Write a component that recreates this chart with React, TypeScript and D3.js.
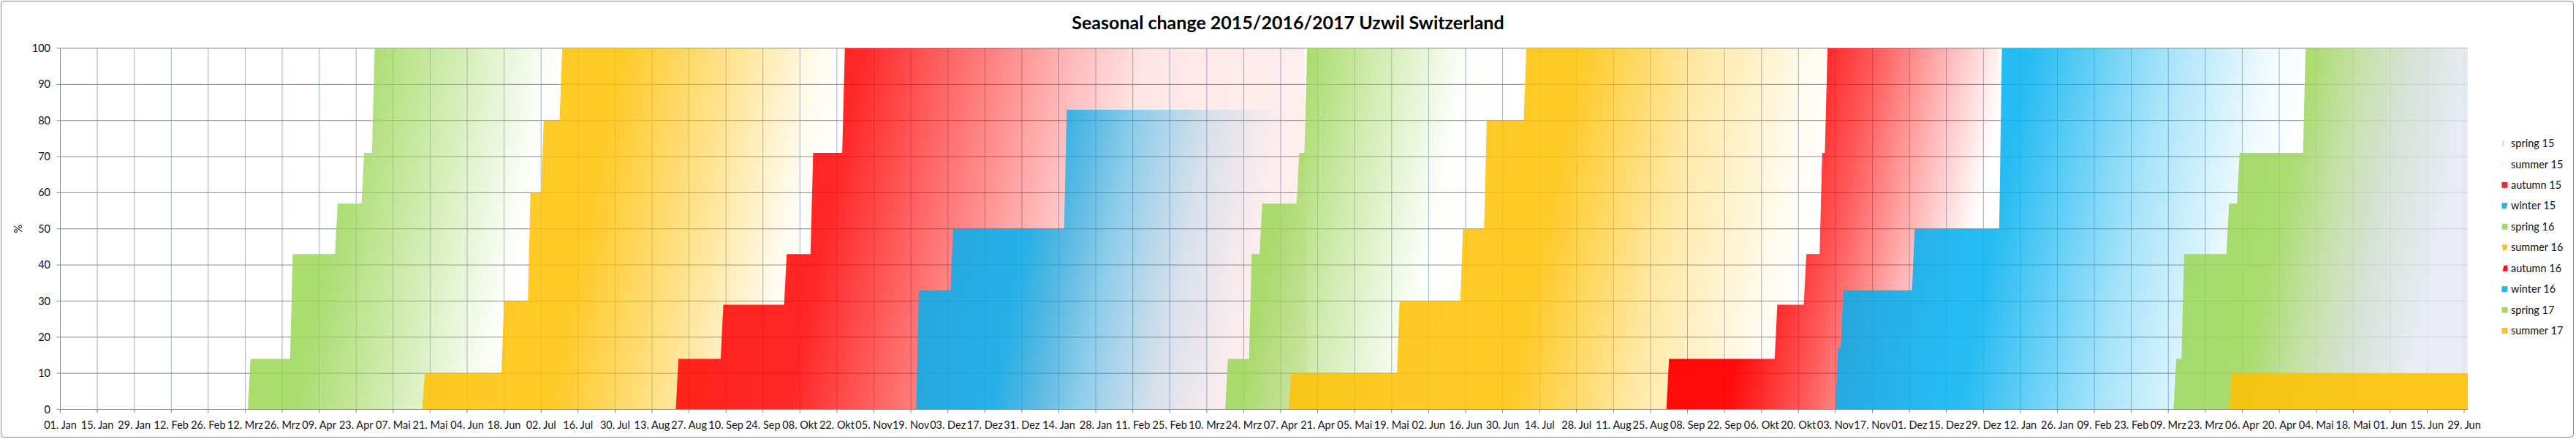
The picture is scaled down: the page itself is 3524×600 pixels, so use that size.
import * as d3 from "d3";
import React from "react";

// season names, in drawing order (later ones are drawn on top)
const seasons = [
  "spring 15", "summer 15", "autumn 15", "winter 15", "spring 16",
  "summer 16", "autumn 16", "winter 16", "spring 17", "summer 17",
];

// change points: [day, % from that day on]; a final 0 closes the season
const spring15: [string, number][] = [
  ["2015-03-14", 14], ["2015-03-30", 43], ["2015-04-16", 57], ["2015-04-26", 71], ["2015-04-30", 100], ["2015-07-10", 0],
];
const summer15: [string, number][] = [
  ["2015-05-19", 10], ["2015-06-18", 30], ["2015-06-28", 60], ["2015-07-03", 80], ["2015-07-10", 100], ["2015-10-25", 0],
];
const autumn15: [string, number][] = [
  ["2015-08-23", 14], ["2015-09-09", 29], ["2015-10-03", 43], ["2015-10-13", 71], ["2015-10-25", 100], ["2016-04-17", 0],
];
const winter15: [string, number][] = [
  ["2015-11-22", 33], ["2015-12-05", 50], ["2016-01-17", 83], ["2016-04-10", 0],
];
const spring16: [string, number][] = [
  ["2016-03-18", 14], ["2016-03-27", 43], ["2016-03-31", 57], ["2016-04-14", 71], ["2016-04-17", 100], ["2016-07-09", 0],
];
const summer16: [string, number][] = [
  ["2016-04-11", 10], ["2016-05-22", 30], ["2016-06-15", 50], ["2016-06-24", 80], ["2016-07-09", 100], ["2016-10-31", 0],
];
const autumn16: [string, number][] = [
  ["2016-09-01", 14], ["2016-10-12", 29], ["2016-10-23", 43], ["2016-10-29", 71], ["2016-10-31", 100], ["2017-01-05", 0],
];
const winter16: [string, number][] = [
  ["2016-11-04", 17], ["2016-11-06", 33], ["2016-12-03", 50], ["2017-01-05", 100], ["2017-04-30", 0],
];
const spring17: [string, number][] = [
  ["2017-03-12", 14], ["2017-03-15", 43], ["2017-04-01", 57], ["2017-04-05", 71], ["2017-04-30", 100],
];
const summer17: [string, number][] = [["2017-04-02", 10]];

const seriesValues = [spring15, summer15, autumn15, winter15, spring16, summer16, autumn16, winter16, spring17, summer17];

const monthNames = ["Jan", "Feb", "Mrz", "Apr", "Mai", "Jun", "Jul", "Aug", "Sep", "Okt", "Nov", "Dez"];
const yTicks = [0, 10, 20, 30, 40, 50, 60, 70, 80, 90, 100];
const axisStart = "2015-01-01";
const axisEnd = "2017-07-01";

const GREEN = "#9BD655";
const ORANGE = "#FFC000";
const RED = "#FF0000";
const BLUE = "#00B0F0";

// gradient stops per season: [offset, color, opacity]
const fills: [number, string, number][][] = [
  [[0, GREEN, 0.85], [0.36, GREEN, 0.85], [0.68, GREEN, 0.4], [0.93, GREEN, 0.03], [1, GREEN, 0]],
  [[0, ORANGE, 0.85], [0.45, ORANGE, 0.85], [0.7, ORANGE, 0.45], [0.92, ORANGE, 0.05], [1, ORANGE, 0]],
  [[0, RED, 0.85], [0.28, RED, 0.85], [0.45, RED, 0.55], [0.62, RED, 0.25], [0.72, RED, 0.1], [1, RED, 0.06]],
  [[0, BLUE, 0.85], [0.38, BLUE, 0.85], [0.6, BLUE, 0.45], [0.8, BLUE, 0.15], [0.95, BLUE, 0.03], [1, BLUE, 0]],
  [[0, GREEN, 0.85], [0.27, GREEN, 0.85], [0.5, GREEN, 0.45], [0.78, GREEN, 0.02], [1, GREEN, 0]],
  [[0, ORANGE, 0.85], [0.52, ORANGE, 0.85], [0.74, ORANGE, 0.35], [0.95, ORANGE, 0.05], [1, ORANGE, 0]],
  [[0, RED, 0.95], [0.38, RED, 0.95], [0.6, RED, 0.65], [0.8, RED, 0.3], [0.97, RED, 0.03], [1, RED, 0]],
  [[0, BLUE, 0.85], [0.4, BLUE, 0.85], [0.68, BLUE, 0.35], [0.9, BLUE, 0.05], [1, BLUE, 0]],
  [[0, GREEN, 0.85], [0.45, GREEN, 0.85], [0.62, "#BCDC9A", 0.85], [0.78, "#CFDDCF", 0.85], [1, "#E4E8F4", 0.8]],
  [[0, ORANGE, 0.85], [1, ORANGE, 0.88]],
];

// legend swatches (Excel draws slices of the gradient fills)
const swatches = [
  { color: "#B7E08F", points: "1.5,0 3,0 2,8 0.5,8" },
  { color: "#FBE7A0", points: "1,1 2.2,1 1.6,7 0.6,7" },
  { color: "#F0282C", points: "0,0 8,0 8,8 0,8" },
  { color: "#27B3E8", points: "0,0 8,0 6,8 0,8" },
  { color: "#A2D66B", points: "0.6,0 8,0 8,8 0,8" },
  { color: "#FAC22A", points: "0,0 8,0 6.5,8 1.5,8" },
  { color: "#F2121A", points: "3,0 8,0 8,8 1,8" },
  { color: "#27B3E8", points: "0,0 8,0 8,5 7,8 0,8" },
  { color: "#A2D66B", points: "0,0 8,0 8,8 0,8" },
  { color: "#FAC22A", points: "0,0 8,0 8,8 0,8" },
];

const W = 3524;
const H = 600;
const left = 82.5;
const right = 3376;
const top = 66;
const bottom = 559.5;
const font = "Lato, 'Open Sans', sans-serif";

const parse = (s: string) => new Date(s + "T00:00:00Z");

export default function App() {
  const start = parse(axisStart);
  const end = parse(axisEnd);
  const x = d3.scaleUtc().domain([start, end]).range([left, left + 912 * 3.6137]);
  const y = d3.scaleLinear().domain([0, 100]).range([bottom, top]);

  const xTicks = d3.utcDay.range(start, end, 14);
  const fmt = (d: Date) => `${d3.utcFormat("%d")(d)}. ${monthNames[d.getUTCMonth()]}`;

  const area = d3
    .area<[Date, number]>()
    .x((d) => x(d[0]))
    .y0(y(0))
    .y1((d) => y(d[1]));

  // daily data in Excel: each change ramps over one day
  const shapes = seriesValues.map((steps) => {
    const pts: [Date, number][] = [];
    let prev = 0;
    for (const [ds, v] of steps) {
      const d = parse(ds);
      pts.push([d3.utcDay.offset(d, -1), prev], [d, v]);
      prev = v;
    }
    if (prev !== 0) pts.push([end, prev]);
    const x0 = x(pts[0][0]);
    const x1 = x(pts[pts.length - 1][0]);
    return { path: area(pts) as string, x0, x1 };
  });

  const legendY = (i: number) => 196 + i * 28.45;

  return (
    <svg
      width={W}
      height={H}
      style={{ position: "absolute", left: 0, top: 0, background: "#fff" }}
      fontFamily={font}
    >
      <defs>
        <clipPath id="plot">
          <rect x={left} y={top} width={right - left} height={bottom - top} />
        </clipPath>
        {shapes.map((s, i) => (
          <linearGradient
            key={i}
            id={`g${i}`}
            gradientUnits="userSpaceOnUse"
            x1={s.x0}
            y1={top}
            x2={s.x1}
            y2={top + 0.2 * (s.x1 - s.x0)}
          >
            {fills[i].map(([o, c, a], j) => (
              <stop key={j} offset={o} stopColor={c} stopOpacity={a} />
            ))}
          </linearGradient>
        ))}
      </defs>

      <rect x={1.5} y={1.5} width={3519} height={596} rx={4} fill="#fff" stroke="#868686" />

      <text x={1762} y={40} textAnchor="middle" fontSize={25} fontWeight="bold" fill="#000">
        Seasonal change 2015/2016/2017 Uzwil Switzerland
      </text>

      {/* gridlines */}
      {xTicks.map((t, i) => (
        <line key={i} x1={x(t)} x2={x(t)} y1={top} y2={bottom} stroke="#9AAFCD" strokeWidth={1} />
      ))}
      {yTicks.map((v) => (
        <line key={v} x1={left - 5} x2={right} y1={y(v)} y2={y(v)} stroke="#898989" strokeWidth={1} />
      ))}

      <g clipPath="url(#plot)">
        {shapes.map((s, i) => (
          <path key={seasons[i]} d={s.path} fill={`url(#g${i})`} />
        ))}
      </g>

      {/* axes */}
      <line x1={left} x2={left} y1={top} y2={bottom} stroke="#868686" />
      <line x1={left} x2={right} y1={bottom} y2={bottom} stroke="#868686" />
      {xTicks.map((t, i) => (
        <g key={i}>
          <line x1={x(t)} x2={x(t)} y1={bottom} y2={bottom + 5} stroke="#868686" />
          <text x={x(t)} y={585.5} textAnchor="middle" fontSize={14.5} fill="#111">
            {fmt(t)}
          </text>
        </g>
      ))}
      {yTicks.map((v) => (
        <text key={v} x={69} y={y(v)} dy="0.35em" textAnchor="end" fontSize={14.5} fill="#111">
          {v}
        </text>
      ))}
      <text transform={`translate(30,${(top + bottom) / 2}) rotate(-90)`} textAnchor="middle" fontSize={14.5} fill="#111">
        %
      </text>

      {/* legend */}
      {seasons.map((name, i) => (
        <g key={name} transform={`translate(3422.5,${legendY(i)})`}>
          <polygon points={swatches[i].points} transform="translate(0,-4)" fill={swatches[i].color} />
          <text x={12.5} dy="0.35em" fontSize={14.5} fill="#111">
            {name}
          </text>
        </g>
      ))}
    </svg>
  );
}
